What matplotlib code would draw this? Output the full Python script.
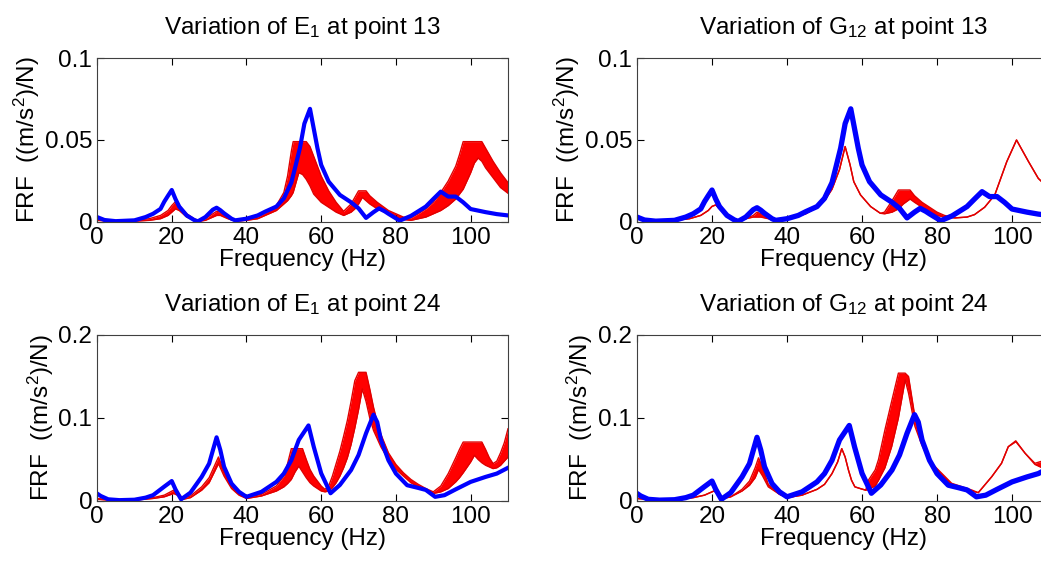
import matplotlib
matplotlib.use('Agg')
import matplotlib.pyplot as plt

plt.rcParams['font.family'] = ['Liberation Sans', 'DejaVu Sans']
plt.rcParams['font.size'] = 17.5
plt.rcParams['mathtext.fontset'] = 'custom'
plt.rcParams['mathtext.rm'] = 'Liberation Sans'

# measured (blue) FRF at point 13 and point 24
freq_b13 = [0, 2, 5, 10, 13, 15, 17, 18, 19, 20, 21, 22, 24, 26, 27, 29, 31, 32, 33, 34,
            36, 37, 40, 43, 45, 48, 50, 52, 53, 54.3, 55.5, 57, 58, 59, 60, 62, 65, 68,
            70, 72, 74, 75.5, 77, 78, 81, 84, 88, 90, 92, 94, 96, 98, 100, 104, 107, 110]
blue13 = [0.003, 0.0012, 0.0005, 0.001, 0.003, 0.005, 0.008, 0.0124, 0.016, 0.0195, 0.014,
          0.0094, 0.004, 0.0012, 0.0004, 0.003, 0.0075, 0.0087, 0.0072, 0.0053, 0.002, 0.001,
          0.002, 0.004, 0.0063, 0.0094, 0.0144, 0.024, 0.033, 0.045, 0.06, 0.069, 0.057,
          0.045, 0.0348, 0.0246, 0.0165, 0.012, 0.0083, 0.0025, 0.006, 0.0083, 0.0065,
          0.005, 0.0008, 0.0037, 0.0094, 0.014, 0.0185, 0.0155, 0.0155, 0.012, 0.0079,
          0.006, 0.0048, 0.004]

freq_b24 = [0, 1, 3, 6, 10, 13, 15, 18, 20, 21, 22.5, 25, 28, 30, 32, 33, 34, 36, 38, 40,
            44, 48, 50, 52, 54, 56.6, 58, 60, 62.5, 65, 68, 70, 72, 74, 75, 76, 78, 80, 83,
            86, 88, 90.5, 93, 96, 100, 104, 107, 110]
blue24 = [0.009, 0.006, 0.002, 0.001, 0.0015, 0.004, 0.007, 0.0173, 0.024, 0.014, 0.002,
          0.01, 0.029, 0.045, 0.0767, 0.0614, 0.0413, 0.021, 0.011, 0.005, 0.011, 0.023,
          0.033, 0.049, 0.0735, 0.091, 0.0654, 0.0333, 0.0093, 0.0193, 0.0373, 0.0554,
          0.0815, 0.104, 0.095, 0.0735, 0.049, 0.033, 0.019, 0.0157, 0.0133, 0.005, 0.007,
          0.014, 0.023, 0.029, 0.033, 0.04]

# envelope (min / max) of the varied model FRFs, E1 at point 13
freq_r13e = [0, 5, 10, 14, 17, 19, 20, 21, 22, 24, 26, 27, 29, 31, 32, 33, 35, 37, 40, 43,
             45, 48, 50, 51, 52, 52.5, 54, 55, 56, 57, 58, 60, 62, 64, 66, 68, 69, 70, 71,
             72, 73, 75, 78, 80, 82, 84, 86, 88, 90, 92, 94, 96, 97, 98, 99, 100, 101, 102,
             103, 104, 106, 108, 110]
hi_r13e = [0.002, 0.0008, 0.001, 0.002, 0.004, 0.007, 0.010, 0.0124, 0.010, 0.005, 0.002,
           0.001, 0.002, 0.005, 0.0065, 0.006, 0.003, 0.001, 0.0015, 0.003, 0.0055, 0.010,
           0.018, 0.028, 0.043, 0.049, 0.049, 0.049, 0.049, 0.046, 0.040, 0.028, 0.019,
           0.012, 0.0065, 0.011, 0.015, 0.019, 0.019, 0.019, 0.016, 0.012, 0.007, 0.005,
           0.003, 0.0025, 0.005, 0.008, 0.012, 0.018, 0.025, 0.034, 0.041, 0.049, 0.049,
           0.049, 0.049, 0.049, 0.049, 0.045, 0.037, 0.030, 0.024]
lo_r13e = [0.001, 0.0003, 0.0005, 0.001, 0.002, 0.004, 0.006, 0.008, 0.007, 0.003, 0.001,
           0.0004, 0.001, 0.003, 0.004, 0.004, 0.002, 0.0005, 0.001, 0.002, 0.004, 0.007,
           0.011, 0.013, 0.016, 0.018, 0.030, 0.029, 0.026, 0.022, 0.017, 0.012, 0.009,
           0.006, 0.004, 0.006, 0.008, 0.011, 0.015, 0.013, 0.011, 0.008, 0.005, 0.003,
           0.0015, 0.001, 0.002, 0.003, 0.005, 0.007, 0.010, 0.014, 0.017, 0.020, 0.025,
           0.030, 0.036, 0.039, 0.037, 0.033, 0.027, 0.021, 0.0175]

# G12 at point 13
freq_r13g = [0, 5, 10, 14, 17, 19, 20, 21, 22, 24, 26, 27, 29, 31, 32, 33, 35, 37, 40, 45,
             48, 50, 52, 54, 55.5, 56.8, 57.8, 59.6, 62.3, 64.9, 66, 68, 69.7, 71, 72.8, 74,
             76, 78, 80, 82, 84.8, 88, 90, 92.7, 95.4, 98.6, 101.2, 104.4, 107, 110]
hi_r13g = [0.002, 0.0008, 0.001, 0.002, 0.004, 0.007, 0.0095, 0.0104, 0.008, 0.004, 0.002,
           0.001, 0.002, 0.004, 0.006, 0.005, 0.003, 0.001, 0.0015, 0.005, 0.009, 0.013,
           0.020, 0.032, 0.046, 0.035, 0.0246, 0.0165, 0.0094, 0.0053, 0.006, 0.013,
           0.0195, 0.0195, 0.0195, 0.016, 0.012, 0.009, 0.006, 0.004, 0.0025, 0.003,
           0.0045, 0.009, 0.0165, 0.0368, 0.050, 0.0368, 0.0266, 0.020]
lo_r13g = [0.002, 0.0008, 0.001, 0.002, 0.004, 0.007, 0.0095, 0.0104, 0.008, 0.004, 0.002,
           0.001, 0.002, 0.003, 0.003, 0.003, 0.002, 0.001, 0.0015, 0.005, 0.009, 0.013,
           0.020, 0.032, 0.046, 0.035, 0.0246, 0.0165, 0.0094, 0.0053, 0.005, 0.006,
           0.008, 0.011, 0.014, 0.012, 0.009, 0.006, 0.004, 0.003, 0.0025, 0.003,
           0.0045, 0.009, 0.0165, 0.0368, 0.050, 0.0368, 0.0266, 0.020]

# E1 at point 24
freq_r24e = [0, 5, 10, 15, 18, 20.5, 22, 23, 25, 28, 30, 32.5, 34, 36, 38, 40, 44, 48, 50,
             51, 52, 53, 54, 55, 56, 57, 58, 60, 61, 62, 63, 64, 65, 66, 67, 68, 69, 70,
             71, 72, 73, 74, 75, 76, 78, 80, 82, 84, 86, 88, 90, 92, 94, 96, 97, 98, 100,
             101, 102, 103, 104, 105, 106, 107, 108, 109, 110]
hi_r24e = [0.003, 0.001, 0.0015, 0.004, 0.007, 0.013, 0.008, 0.003, 0.006, 0.017, 0.028,
           0.053, 0.035, 0.018, 0.009, 0.004, 0.008, 0.018, 0.030, 0.045, 0.063, 0.063,
           0.063, 0.063, 0.050, 0.038, 0.030, 0.018, 0.014, 0.018, 0.030, 0.045, 0.060,
           0.078, 0.097, 0.120, 0.145, 0.155, 0.155, 0.155, 0.135, 0.113, 0.095, 0.080,
           0.058, 0.044, 0.034, 0.026, 0.020, 0.015, 0.011, 0.018, 0.033, 0.052, 0.062,
           0.071, 0.071, 0.071, 0.071, 0.071, 0.062, 0.052, 0.045, 0.048, 0.058, 0.070,
           0.087]
lo_r24e = [0.002, 0.0005, 0.001, 0.003, 0.005, 0.009, 0.006, 0.002, 0.004, 0.013, 0.022,
           0.045, 0.030, 0.015, 0.007, 0.003, 0.006, 0.012, 0.017, 0.021, 0.026, 0.035,
           0.042, 0.035, 0.028, 0.022, 0.018, 0.012, 0.011, 0.012, 0.016, 0.022, 0.030,
           0.040, 0.052, 0.068, 0.088, 0.110, 0.135, 0.120, 0.100, 0.085, 0.075, 0.065,
           0.050, 0.038, 0.030, 0.022, 0.017, 0.013, 0.009, 0.011, 0.015, 0.023, 0.028,
           0.034, 0.047, 0.055, 0.050, 0.046, 0.043, 0.041, 0.039, 0.040, 0.043, 0.048,
           0.053]

# G12 at point 24
freq_r24g = [0, 5, 10, 15, 18, 20.5, 22, 23, 25, 28, 30, 31.5, 32.4, 33.5, 35, 38, 40, 44,
             48, 50, 52, 53.5, 54.6, 55.5, 56.4, 57.2, 58.1, 59.5, 61, 61.7, 63.5, 64.4,
             66.1, 67.9, 69.7, 71.5, 72.4, 74.1, 75.9, 78.6, 83.9, 89.2, 91, 94.6, 97.2,
             99, 101, 103.5, 106.1, 108, 110]
hi_r24g = [0.003, 0.001, 0.0015, 0.004, 0.007, 0.012, 0.008, 0.003, 0.005, 0.014, 0.024,
           0.040, 0.052, 0.040, 0.020, 0.008, 0.004, 0.007, 0.014, 0.020, 0.033, 0.047,
           0.063, 0.053, 0.037, 0.025, 0.017, 0.015, 0.013, 0.025, 0.0373, 0.050, 0.0855,
           0.120, 0.154, 0.154, 0.150, 0.1016, 0.0735, 0.0454, 0.0213, 0.0133, 0.010,
           0.0293, 0.0454, 0.0654, 0.0725, 0.0574, 0.0454, 0.048, 0.058]
lo_r24g = [0.003, 0.001, 0.0015, 0.004, 0.007, 0.012, 0.008, 0.003, 0.005, 0.012, 0.019,
           0.028, 0.038, 0.030, 0.017, 0.008, 0.004, 0.007, 0.014, 0.020, 0.033, 0.047,
           0.063, 0.053, 0.037, 0.025, 0.017, 0.015, 0.013, 0.014, 0.018, 0.025, 0.040,
           0.0654, 0.100, 0.1458, 0.130, 0.090, 0.068, 0.042, 0.020, 0.012, 0.010,
           0.0293, 0.0454, 0.0654, 0.0715, 0.0574, 0.044, 0.040, 0.042]

titles = ['Variation of $\\mathregular{E_1}$ at point 13',
          'Variation of $\\mathregular{G_{12}}$ at point 13',
          'Variation of $\\mathregular{E_1}$ at point 24',
          'Variation of $\\mathregular{G_{12}}$ at point 24']

panels = [
    ([0.0932, 0.6043, 0.3948, 0.2923], freq_r13e, lo_r13e, hi_r13e, freq_b13, blue13, 0.1, 3.0),
    ([0.6119, 0.6043, 0.3963, 0.2923], freq_r13g, lo_r13g, hi_r13g, freq_b13, blue13, 0.1, 3.8),
    ([0.0932, 0.1070, 0.3948, 0.2959], freq_r24e, lo_r24e, hi_r24e, freq_b24, blue24, 0.2, 3.0),
    ([0.6119, 0.1070, 0.3963, 0.2959], freq_r24g, lo_r24g, hi_r24g, freq_b24, blue24, 0.2, 3.8),
]

fig = plt.figure(figsize=(10.41, 5.61), dpi=100)

for (rect, fr, lo, hi, fb, bl, ymax, blw), title in zip(panels, titles):
    ax = fig.add_axes(rect)
    # red band of model curves
    ax.fill_between(fr, lo, hi, color='#ff0000', lw=0)
    ax.plot(fr, lo, color='#e00000', lw=1.0)
    ax.plot(fr, hi, color='#e00000', lw=1.0)
    # blue reference curve
    ax.plot(fb, bl, color='#0000ff', lw=blw, solid_joinstyle='round')
    ax.set_xlim(0, 110)
    ax.set_ylim(0, ymax)
    ax.set_xticks([0, 20, 40, 60, 80, 100])
    ax.set_yticks([0, ymax / 2, ymax])
    if ymax == 0.1:
        ax.set_yticklabels(['0', '0.05', '0.1'])
    else:
        ax.set_yticklabels(['0', '0.1', '0.2'])
    ax.tick_params(direction='in', top=True, right=True, length=5, width=0.8,
                   pad=3.5, labelsize=17.5)
    for s in ax.spines.values():
        s.set_linewidth(0.8)
        s.set_color('#404040')
    ax.set_xlabel('Frequency (Hz)', labelpad=0)
    ax.set_ylabel('FRF  ((m/s$\\mathregular{^2}$)/N)', labelpad=2)
    ax.set_title(title, fontsize=17.5, pad=17)

fig.savefig('out.png', dpi=100)
